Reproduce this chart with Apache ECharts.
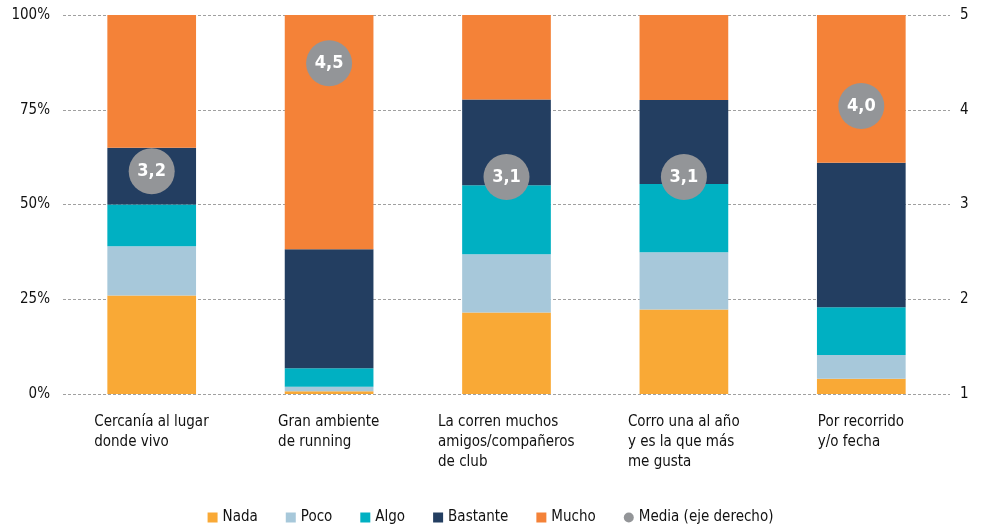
<!DOCTYPE html>
<html>
<head>
<meta charset="utf-8">
<script src="https://cdn.jsdelivr.net/npm/echarts@6/dist/echarts.min.js"></script>
<style>
  html, body { margin: 0; padding: 0; background: #fff; }
  #chart { width: 981px; height: 524px; }
</style>
</head>
<body>
<div id="chart"></div>
<script>
// datos
const categories = [
  "Cercanía al lugar\ndonde vivo",
  "Gran ambiente\nde running",
  "La corren muchos\namigos/compañeros\nde club",
  "Corro una al año\ny es la que más\nme gusta",
  "Por recorrido\ny/o fecha"
];
const nada = [26, 0.7, 21.5, 22.3, 4.0];
const poco = [13, 1.2, 15.4, 15.1, 6.3];
const algo = [11, 4.9, 18.2, 18.0, 12.6];
const bastante = [15, 31.4, 22.6, 22.2, 38.1];
const mucho = [35, 61.8, 22.3, 22.4, 39.0];
const media = [3.35, 4.49, 3.29, 3.29, 4.04];
const mediaLabels = ["3,2", "4,5", "3,1", "3,1", "4,0"];
const leftTicks = [0, 25, 50, 75, 100];

const FONT = '"Liberation Sans Narrow", "DejaVu Sans Condensed", "Noto Sans", sans-serif';
const colors = {
  Nada: "#F9A936",
  Poco: "#A7C8DA",
  Algo: "#00B0C2",
  Bastante: "#233E61",
  Mucho: "#F48238",
  Media: "#939598"
};

// bloque centrado, líneas alineadas a la izquierda
const ctx = document.createElement("canvas").getContext("2d");
ctx.font = "15px " + FONT;
const rich = {};
categories.forEach((c, i) => {
  const w = Math.max(...c.split("\n").map(l => ctx.measureText(l).width));
  rich["c" + i] = { width: Math.ceil(w), align: "left", fontSize: 15, lineHeight: 20, color: "#111", fontFamily: FONT };
});

const chart = echarts.init(document.getElementById("chart"));

function barSeries(name, data) {
  return {
    name: name,
    type: "bar",
    stack: "total",
    barWidth: "50%",
    data: data,
    itemStyle: { color: colors[name] }
  };
}

chart.setOption({
  animation: false,
  textStyle: { fontFamily: FONT },
  grid: { left: 63, right: 31, top: 15, bottom: 130 },
  legend: {
    top: 505,
    left: "center",
    itemWidth: 10,
    itemHeight: 10,
    itemGap: 28,
    textStyle: { fontSize: 15, color: "#111", fontFamily: FONT },
    data: [
      { name: "Nada", icon: "rect" },
      { name: "Poco", icon: "rect" },
      { name: "Algo", icon: "rect" },
      { name: "Bastante", icon: "rect" },
      { name: "Mucho", icon: "rect" },
      { name: "Media (eje derecho)", icon: "circle" }
    ]
  },
  xAxis: {
    type: "category",
    data: categories,
    axisLine: { show: false },
    axisTick: { show: false },
    axisLabel: {
      interval: 0,
      margin: 18,
      verticalAlign: "top",
      formatter: function (v, i) {
        return v.split("\n").map(l => "{c" + i + "|" + l + "}").join("\n");
      },
      rich: rich
    }
  },
  yAxis: [
    {
      type: "value",
      min: leftTicks[0],
      max: leftTicks[leftTicks.length - 1],
      interval: 25,
      axisLine: { show: false },
      axisTick: { show: false },
      axisLabel: { formatter: "{value}%", fontSize: 15, color: "#111", margin: 13, fontFamily: FONT },
      splitLine: { lineStyle: { color: "#a0a0a0", type: [3, 2], width: 1 } }
    },
    {
      type: "value",
      min: 1,
      max: 5,
      interval: 1,
      position: "right",
      axisLine: { show: false },
      axisTick: { show: false },
      axisLabel: { fontSize: 15, color: "#111", margin: 10, fontFamily: FONT },
      splitLine: { show: false }
    }
  ],
  series: [
    barSeries("Nada", nada),
    barSeries("Poco", poco),
    barSeries("Algo", algo),
    barSeries("Bastante", bastante),
    barSeries("Mucho", mucho),
    {
      name: "Media (eje derecho)",
      type: "scatter",
      yAxisIndex: 1,
      z: 5,
      symbolSize: 46,
      data: media,
      itemStyle: { color: colors.Media, opacity: 1 },
      label: {
        show: true,
        position: "inside",
        color: "#fff",
        fontSize: 18,
        fontWeight: "bold",
        fontFamily: FONT,
        formatter: p => mediaLabels[p.dataIndex]
      }
    }
  ]
});
</script>
</body>
</html>
